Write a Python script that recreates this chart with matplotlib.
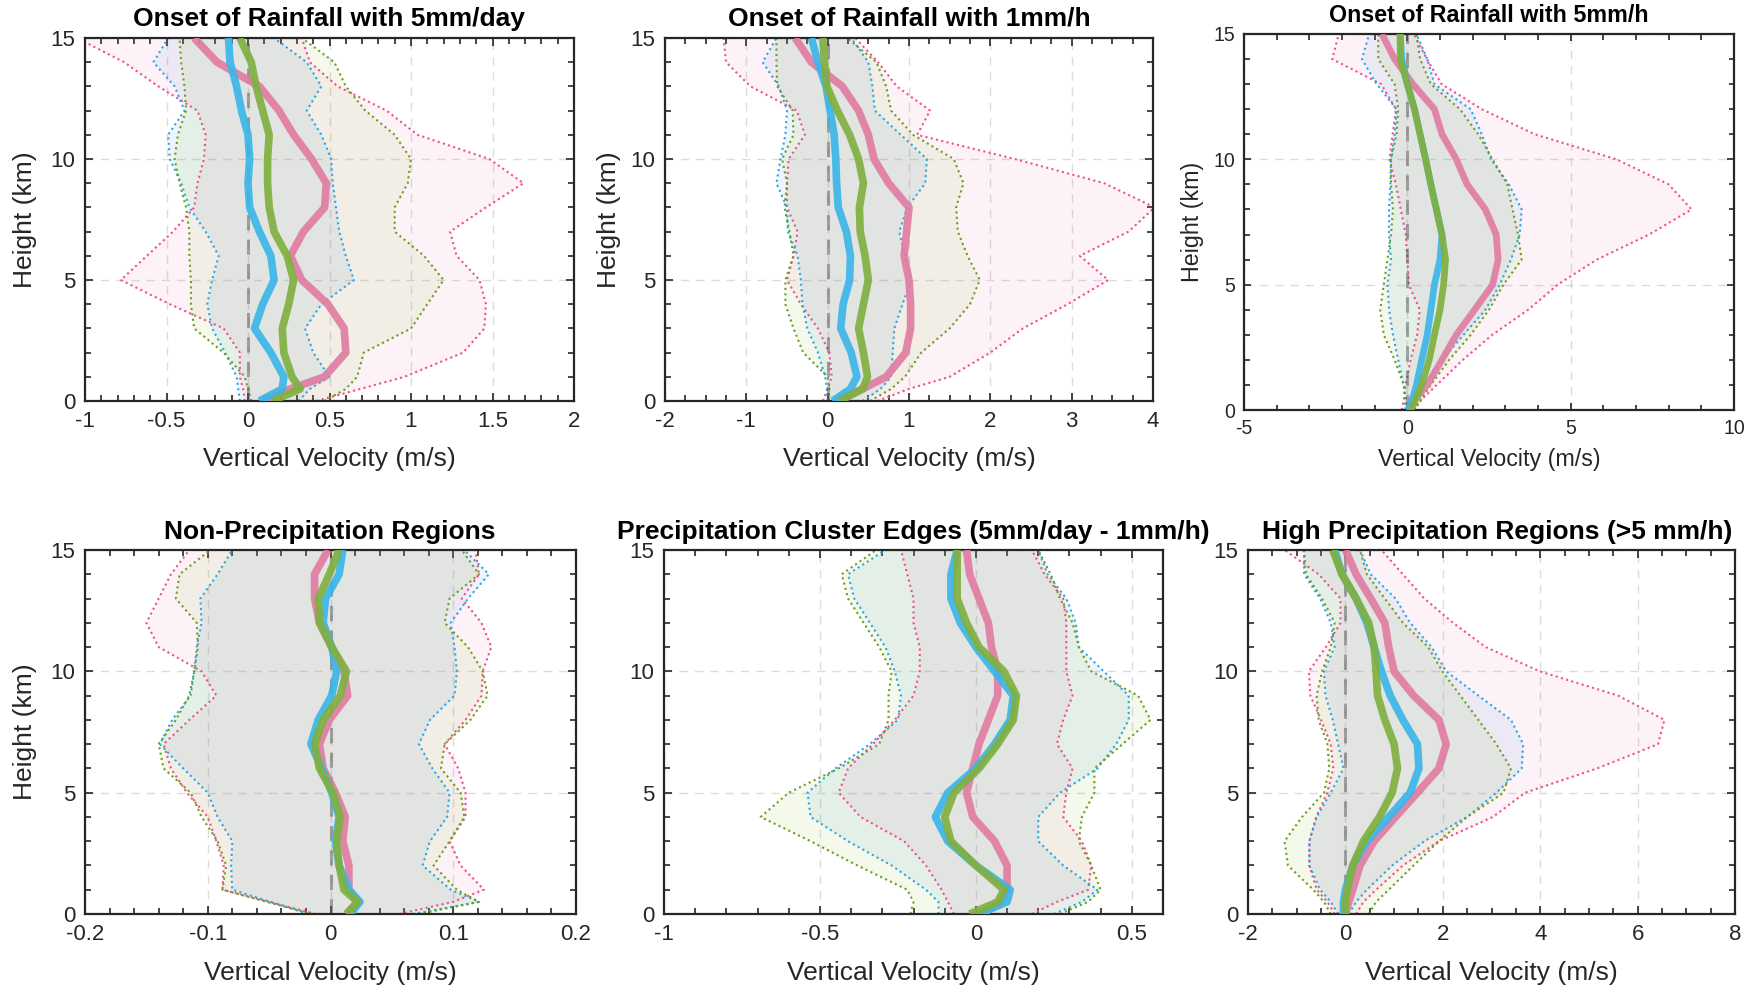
import numpy as np
import matplotlib
matplotlib.use('Agg')
import matplotlib.pyplot as plt
from matplotlib.ticker import MultipleLocator, FixedLocator

plt.rcParams['font.family'] = ['Liberation Sans', 'DejaVu Sans']

# ---------------- data ----------------
height_km = [0, 0.5, 1, 2, 3, 4, 5, 6, 7, 8, 9, 10, 11, 12, 13, 14, 15]

# Panel 1: Onset of Rainfall with 5mm/day
p1_pink_med = [0.1, 0.26, 0.47, 0.6, 0.59, 0.49, 0.33, 0.26, 0.34, 0.47, 0.48, 0.39, 0.28, 0.19, 0.07, -0.19, -0.33]
p1_pink_lo = [-0.02, -0.03, -0.05, -0.05, -0.15, -0.48, -0.78, -0.62, -0.46, -0.33, -0.31, -0.27, -0.26, -0.31, -0.55, -0.76, -1.05]
p1_pink_hi = [0.42, 0.69, 0.96, 1.32, 1.45, 1.46, 1.42, 1.28, 1.24, 1.46, 1.69, 1.48, 1.04, 0.85, 0.55, 0.38, 0.33]
p1_blue_med = [0.07, 0.21, 0.22, 0.14, 0.04, 0.09, 0.16, 0.14, 0.07, 0.01, 0.0, 0.01, 0.0, -0.04, -0.07, -0.11, -0.12]
p1_blue_lo = [-0.05, -0.06, -0.07, -0.14, -0.22, -0.25, -0.22, -0.18, -0.26, -0.36, -0.41, -0.48, -0.49, -0.39, -0.45, -0.58, -0.49]
p1_blue_hi = [0.31, 0.38, 0.5, 0.4, 0.35, 0.45, 0.65, 0.6, 0.56, 0.54, 0.52, 0.51, 0.45, 0.36, 0.45, 0.36, 0.16]
p1_green_med = [0.15, 0.32, 0.27, 0.22, 0.21, 0.25, 0.28, 0.24, 0.16, 0.13, 0.12, 0.12, 0.13, 0.09, 0.05, 0.02, -0.05]
p1_green_lo = [0.02, 0.0, -0.02, -0.15, -0.33, -0.35, -0.35, -0.36, -0.36, -0.38, -0.42, -0.45, -0.43, -0.38, -0.39, -0.41, -0.42]
p1_green_hi = [0.47, 0.6, 0.67, 0.71, 1.0, 1.1, 1.2, 1.08, 0.9, 0.9, 0.98, 1.0, 0.9, 0.72, 0.6, 0.53, 0.33]

# Panel 2: Onset of Rainfall with 1mm/h
p2_pink_med = [0.1, 0.43, 0.72, 0.96, 1.02, 1.02, 1.0, 0.94, 0.97, 1.0, 0.75, 0.57, 0.5, 0.38, 0.18, -0.2, -0.4]
p2_pink_lo = [-0.06, 0.0, 0.05, 0.02, -0.12, -0.33, -0.5, -0.42, -0.37, -0.5, -0.5, -0.48, -0.28, -0.38, -0.95, -1.25, -1.28]
p2_pink_hi = [0.61, 1.0, 1.5, 2.0, 2.4, 2.95, 3.45, 3.1, 3.7, 4.02, 3.4, 2.3, 1.1, 1.26, 0.85, 0.62, 0.34]
p2_blue_med = [0.06, 0.28, 0.36, 0.29, 0.16, 0.19, 0.27, 0.28, 0.23, 0.13, 0.11, 0.1, 0.08, 0.03, -0.02, -0.12, -0.2]
p2_blue_lo = [0.0, -0.01, -0.03, -0.12, -0.25, -0.31, -0.33, -0.37, -0.49, -0.5, -0.63, -0.58, -0.52, -0.5, -0.6, -0.8, -0.63]
p2_blue_hi = [0.43, 0.65, 0.78, 0.8, 0.82, 0.92, 1.03, 0.95, 0.88, 0.98, 1.2, 1.22, 0.9, 0.58, 0.55, 0.5, 0.29]
p2_green_med = [0.15, 0.43, 0.49, 0.44, 0.38, 0.44, 0.5, 0.46, 0.4, 0.39, 0.44, 0.38, 0.27, 0.12, -0.01, -0.04, -0.06]
p2_green_lo = [0.01, 0.02, 0.0, -0.3, -0.42, -0.52, -0.52, -0.42, -0.47, -0.53, -0.5, -0.56, -0.42, -0.43, -0.62, -0.63, -0.63]
p2_green_hi = [0.52, 0.78, 0.95, 1.15, 1.5, 1.75, 1.87, 1.72, 1.6, 1.58, 1.67, 1.55, 1.05, 0.78, 0.72, 0.6, 0.24]

# Panel 3: Onset of Rainfall with 5mm/h
p3_pink_med = [0.0, 0.28, 0.61, 1.06, 1.5, 2.06, 2.61, 2.78, 2.72, 2.39, 1.83, 1.5, 1.06, 0.83, 0.17, -0.39, -0.78]
p3_pink_lo = [-0.17, -0.1, -0.05, 0.1, 0.3, 0.38, 0.05, 0.0, -0.05, -0.2, -0.35, -0.55, -0.45, -0.35, -0.8, -2.3, -2.1]
p3_pink_hi = [0.17, 0.5, 0.9, 1.7, 2.6, 3.7, 4.6, 5.8, 7.4, 8.7, 8.0, 6.4, 3.9, 2.28, 1.05, 0.6, 0.2]
p3_blue_med = [0.03, 0.17, 0.28, 0.44, 0.61, 0.72, 0.83, 1.0, 1.06, 0.89, 0.72, 0.56, 0.39, 0.22, 0.0, -0.17, -0.22]
p3_blue_lo = [-0.06, -0.08, -0.11, -0.28, -0.44, -0.56, -0.61, -0.5, -0.56, -0.56, -0.52, -0.5, -0.39, -0.33, -0.94, -1.39, -1.17]
p3_blue_hi = [0.11, 0.3, 0.5, 1.06, 1.72, 2.39, 2.83, 3.17, 3.44, 3.5, 3.11, 2.56, 2.28, 1.94, 0.83, 0.61, 0.28]
p3_green_med = [0.11, 0.28, 0.44, 0.67, 0.83, 1.0, 1.11, 1.17, 1.06, 0.89, 0.72, 0.56, 0.39, 0.22, 0.0, -0.22, -0.22]
p3_green_lo = [0.0, -0.05, -0.11, -0.39, -0.72, -0.83, -0.72, -0.61, -0.5, -0.44, -0.5, -0.5, -0.33, -0.28, -0.39, -0.89, -0.89]
p3_green_hi = [0.22, 0.45, 0.72, 1.28, 1.94, 2.5, 2.94, 3.5, 3.39, 3.22, 3.06, 2.61, 2.17, 1.61, 0.72, 0.39, 0.28]

# Panel 4: Non-Precipitation Regions
p4_pink_med = [0.013, 0.022, 0.015, 0.015, 0.01, 0.012, 0.004, -0.006, -0.009, -0.001, 0.014, 0.011, 0.001, -0.009, -0.013, -0.013, -0.002]
p4_pink_lo = [-0.012, -0.05, -0.088, -0.087, -0.093, -0.1, -0.117, -0.13, -0.136, -0.115, -0.093, -0.105, -0.14, -0.15, -0.14, -0.13, -0.115]
p4_pink_hi = [0.056, 0.1, 0.125, 0.106, 0.097, 0.11, 0.11, 0.104, 0.093, 0.11, 0.123, 0.124, 0.131, 0.123, 0.107, 0.121, 0.118]
p4_blue_med = [0.016, 0.024, 0.015, 0.007, 0.004, 0.007, 0.001, -0.007, -0.016, -0.01, 0.001, 0.005, 0.001, -0.006, -0.004, 0.007, 0.01]
p4_blue_lo = [-0.018, -0.049, -0.08, -0.081, -0.08, -0.092, -0.1, -0.12, -0.139, -0.129, -0.114, -0.111, -0.109, -0.105, -0.106, -0.092, -0.08]
p4_blue_hi = [0.067, 0.121, 0.098, 0.075, 0.081, 0.095, 0.097, 0.083, 0.072, 0.081, 0.101, 0.103, 0.101, 0.098, 0.112, 0.129, 0.109]
p4_green_med = [0.013, 0.022, 0.011, 0.007, 0.005, 0.008, 0.002, -0.009, -0.013, -0.006, 0.008, 0.013, 0.001, -0.009, -0.01, -0.001, 0.007]
p4_green_lo = [-0.015, -0.052, -0.088, -0.085, -0.092, -0.105, -0.114, -0.136, -0.14, -0.126, -0.115, -0.111, -0.108, -0.109, -0.126, -0.123, -0.098]
p4_green_hi = [0.072, 0.121, 0.103, 0.084, 0.097, 0.109, 0.106, 0.09, 0.093, 0.114, 0.128, 0.124, 0.112, 0.093, 0.097, 0.121, 0.107]

# Panel 5: Precipitation Cluster Edges
p5_pink_med = [0.02, 0.08, 0.1, 0.1, 0.06, -0.01, -0.03, -0.01, 0.01, 0.04, 0.07, 0.07, 0.05, 0.04, 0.01, -0.02, -0.03]
p5_pink_lo = [-0.07, -0.09, -0.11, -0.16, -0.23, -0.37, -0.44, -0.41, -0.33, -0.26, -0.2, -0.18, -0.18, -0.2, -0.2, -0.22, -0.24]
p5_pink_hi = [0.18, 0.26, 0.36, 0.37, 0.34, 0.28, 0.29, 0.31, 0.26, 0.28, 0.31, 0.29, 0.29, 0.29, 0.28, 0.22, 0.18]
p5_blue_med = [0.01, 0.1, 0.11, 0.0, -0.09, -0.13, -0.09, 0.0, 0.06, 0.11, 0.12, 0.06, 0.0, -0.05, -0.08, -0.08, -0.06]
p5_blue_lo = [-0.12, -0.12, -0.16, -0.27, -0.41, -0.53, -0.54, -0.45, -0.34, -0.25, -0.24, -0.26, -0.29, -0.34, -0.39, -0.41, -0.29]
p5_blue_hi = [0.25, 0.34, 0.39, 0.28, 0.2, 0.2, 0.27, 0.39, 0.45, 0.49, 0.49, 0.41, 0.33, 0.32, 0.29, 0.23, 0.2]
p5_green_med = [-0.02, 0.07, 0.09, 0.0, -0.08, -0.1, -0.07, 0.01, 0.07, 0.12, 0.13, 0.09, 0.01, -0.03, -0.06, -0.06, -0.06]
p5_green_lo = [-0.21, -0.2, -0.22, -0.38, -0.53, -0.69, -0.6, -0.44, -0.31, -0.28, -0.28, -0.27, -0.31, -0.36, -0.41, -0.43, -0.32]
p5_green_hi = [0.27, 0.36, 0.4, 0.37, 0.33, 0.34, 0.38, 0.38, 0.47, 0.56, 0.52, 0.37, 0.33, 0.31, 0.27, 0.24, 0.2]

# Panel 6: High Precipitation Regions
p6_pink_med = [0.0, 0.07, 0.15, 0.3, 0.59, 1.03, 1.48, 1.92, 2.07, 1.92, 1.4, 1.0, 0.89, 0.81, 0.52, 0.22, 0.0]
p6_pink_lo = [-0.22, -0.37, -0.59, -0.74, -0.74, -0.6, -0.37, -0.25, -0.3, -0.5, -0.72, -0.75, -0.4, -0.1, -0.1, -0.55, -1.25]
p6_pink_hi = [0.22, 0.37, 0.63, 1.18, 1.92, 3.03, 3.69, 5.17, 6.42, 6.55, 5.6, 3.99, 2.88, 2.21, 1.62, 1.18, 0.74]
p6_blue_med = [-0.04, -0.04, 0.0, 0.15, 0.44, 0.89, 1.33, 1.51, 1.48, 1.18, 0.92, 0.74, 0.59, 0.44, 0.22, -0.07, -0.22]
p6_blue_lo = [-0.15, -0.3, -0.52, -0.74, -0.74, -0.59, -0.3, -0.04, -0.15, -0.26, -0.41, -0.44, -0.22, -0.3, -0.52, -0.85, -0.85]
p6_blue_hi = [0.07, 0.22, 0.44, 0.96, 1.62, 2.5, 3.1, 3.62, 3.65, 3.4, 2.73, 2.07, 1.77, 1.33, 1.03, 0.52, 0.3]
p6_green_med = [0.0, 0.0, 0.04, 0.15, 0.37, 0.7, 0.96, 1.07, 1.0, 0.81, 0.66, 0.63, 0.59, 0.48, 0.22, -0.07, -0.26]
p6_green_lo = [-0.3, -0.44, -0.66, -1.18, -1.25, -0.89, -0.44, -0.33, -0.37, -0.55, -0.59, -0.48, -0.3, -0.22, -0.48, -0.81, -0.85]
p6_green_hi = [0.48, 0.63, 0.89, 1.4, 1.92, 2.5, 3.25, 3.4, 3.1, 2.73, 2.36, 1.99, 1.7, 1.18, 0.81, 0.44, 0.3]

titles = ["Onset of Rainfall with 5mm/day", "Onset of Rainfall with 1mm/h",
          "Onset of Rainfall with 5mm/h", "Non-Precipitation Regions",
          "Precipitation Cluster Edges (5mm/day - 1mm/h)",
          "High Precipitation Regions (>5 mm/h)"]
x_ticks = [[-1, -0.5, 0, 0.5, 1, 1.5, 2], [-2, -1, 0, 1, 2, 3, 4], [-5, 0, 5, 10],
           [-0.2, -0.1, 0, 0.1, 0.2], [-1, -0.5, 0, 0.5], [-2, 0, 2, 4, 6, 8]]
x_ticklabels = [["-1", "-0.5", "0", "0.5", "1", "1.5", "2"],
                ["-2", "-1", "0", "1", "2", "3", "4"],
                ["-5", "0", "5", "10"],
                ["-0.2", "-0.1", "0", "0.1", "0.2"],
                ["-1", "-0.5", "0", "0.5"],
                ["-2", "0", "2", "4", "6", "8"]]
x_limits = [(-1, 2), (-2, 4), (-5, 10), (-0.2, 0.2), (-1, 0.6), (-2, 8)]
x_minor_step = [0.1, 0.25, 1, 0.02, 0.1, 0.5]
y_ticks = [0, 5, 10, 15]
x_label = "Vertical Velocity (m/s)"
y_label = "Height (km)"

# ---------------- style ----------------
W, Hpx = 1752, 988
fig = plt.figure(figsize=(W / 100, Hpx / 100), dpi=100)

PINK = dict(line='#E07DA2', dot='#EF4F8C', fill='#EB69A5')
BLUE = dict(line='#3CB6E8', dot='#2AA6E6', fill='#3C82D7')
GREEN = dict(line='#80B040', dot='#6C9E1E', fill='#82BE28')
FILL_ALPHA = 0.085
TXT = '#262626'


def px_rect(l, t, r, b):
    return [l / W, 1 - b / Hpx, (r - l) / W, (b - t) / Hpx]


# axes boxes in pixels (left, top, right, bottom)
boxes = [(85, 38, 574, 401), (665, 38, 1153, 401), (1244, 34, 1734, 410),
         (85, 550, 576, 914), (664, 550, 1163, 914), (1248, 550, 1735, 914)]
title_pos = [(329, 19), (909, 19), (1489, 16), (330, 532), (913, 532), (1497, 532)]
scales = [1.0, 1.0, 0.88, 1.0, 1.0, 1.0]
has_ylabel = [True, True, True, True, False, False]
zero_line = [True, True, True, True, False, True]

panel_data = [
    [(p1_pink_med, p1_pink_lo, p1_pink_hi), (p1_blue_med, p1_blue_lo, p1_blue_hi), (p1_green_med, p1_green_lo, p1_green_hi)],
    [(p2_pink_med, p2_pink_lo, p2_pink_hi), (p2_blue_med, p2_blue_lo, p2_blue_hi), (p2_green_med, p2_green_lo, p2_green_hi)],
    [(p3_pink_med, p3_pink_lo, p3_pink_hi), (p3_blue_med, p3_blue_lo, p3_blue_hi), (p3_green_med, p3_green_lo, p3_green_hi)],
    [(p4_pink_med, p4_pink_lo, p4_pink_hi), (p4_blue_med, p4_blue_lo, p4_blue_hi), (p4_green_med, p4_green_lo, p4_green_hi)],
    [(p5_pink_med, p5_pink_lo, p5_pink_hi), (p5_blue_med, p5_blue_lo, p5_blue_hi), (p5_green_med, p5_green_lo, p5_green_hi)],
    [(p6_pink_med, p6_pink_lo, p6_pink_hi), (p6_blue_med, p6_blue_lo, p6_blue_hi), (p6_green_med, p6_green_lo, p6_green_hi)],
]
styles = [PINK, BLUE, GREEN]

for i in range(6):
    l, t, r, b = boxes[i]
    ax = fig.add_axes(px_rect(l, t, r, b))
    s = scales[i]
    h = np.array(height_km)

    # envelopes
    for (med, lo, hi), st in zip(panel_data[i], styles):
        ax.fill_betweenx(h, lo, hi, color=st['fill'], alpha=FILL_ALPHA, lw=0, zorder=1)
    for (med, lo, hi), st in zip(panel_data[i], styles):
        for edge in (lo, hi):
            ax.plot(edge, h, color=st['dot'], lw=1.5, ls=(0, (1, 1.6)), zorder=2)
    if zero_line[i]:
        ax.plot([0, 0], [0, 15], color='#4a4a4a', lw=2.2, ls=(0, (5, 3)), alpha=0.45, zorder=2.5)
    for (med, lo, hi), st in zip(panel_data[i], styles):
        ax.plot(med, h, color=st['line'], lw=5.5 * s, alpha=0.92, zorder=3,
                solid_capstyle='butt', solid_joinstyle='round')

    ax.set_xlim(*x_limits[i])
    ax.set_ylim(0, 15)
    ax.xaxis.set_major_locator(FixedLocator(x_ticks[i]))
    ax.set_xticklabels(x_ticklabels[i])
    ax.yaxis.set_major_locator(FixedLocator(y_ticks))
    ax.set_yticklabels([str(v) for v in y_ticks])
    ax.xaxis.set_minor_locator(MultipleLocator(x_minor_step[i]))
    ax.yaxis.set_minor_locator(MultipleLocator(1))
    ax.tick_params(which='both', direction='in', top=True, right=True,
                   colors=TXT, width=1.2, labelsize=16 * s, pad=7 * s)
    ax.tick_params(which='major', length=5.5 * s)
    ax.tick_params(which='minor', length=4.5 * s)
    for sp in ax.spines.values():
        sp.set_linewidth(1.6)
        sp.set_color(TXT)
    ax.grid(True, which='major', color='#262626', alpha=0.16, lw=1.0, ls=(0, (6, 5)))
    ax.set_axisbelow(True)

    tx, ty = title_pos[i]
    fig.text(tx / W, 1 - ty / Hpx, titles[i], ha='center', va='center',
             fontsize=19 * s, fontweight='bold', color='black')
    xl_y = 459 if i < 3 else 973
    fig.text((l + r) / 2 / W, 1 - xl_y / Hpx, x_label, ha='center', va='center',
             fontsize=19 * s, color=TXT)
    if has_ylabel[i]:
        yl_x = {0: 25, 1: 609, 2: 1193, 3: 25}[i]
        fig.text(yl_x / W, 1 - (t + b) / 2 / Hpx, y_label, ha='center', va='center',
                 rotation=90, fontsize=19 * s, color=TXT)

fig.savefig('out.png', dpi=100, facecolor='white')
